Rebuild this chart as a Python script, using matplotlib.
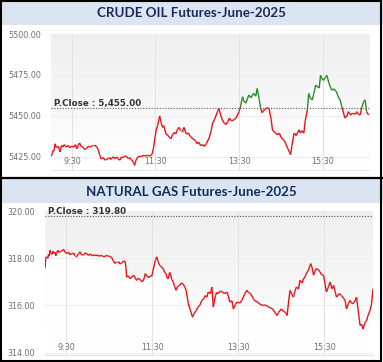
#!/usr/bin/env python3

import numpy as np
import matplotlib.pyplot as plt
from matplotlib.collections import LineCollection
from matplotlib.patches import Rectangle
from matplotlib.colors import LinearSegmentedColormap

# minutes after 9:00
crude_t = [0, 2, 3, 4, 6, 7, 8, 10, 12, 13,
           15, 17, 19, 22, 25, 27, 30, 33, 35, 37,
           39, 41, 43, 46, 48, 51, 53, 56, 60, 63,
           66, 68, 70, 72, 75, 78, 80, 84, 86, 89,
           92, 94, 96, 99, 101, 103, 106, 108, 111, 113,
           115, 118, 120, 122, 125, 128, 130, 132, 135, 139,
           142, 145, 147, 149, 151, 153, 156, 158, 160, 162,
           165, 168, 170, 172, 174, 177, 179, 182, 184, 186,
           189, 191, 194, 197, 201, 204, 208, 210, 212, 215,
           218, 220, 223, 227, 230, 232, 235, 239, 241, 244,
           246, 249, 251, 254, 256, 259, 263, 266, 270, 272,
           275, 277, 280, 282, 284, 287, 291, 294, 296, 299,
           301, 303, 306, 310, 313, 316, 318, 321, 325, 328,
           330, 334, 337, 340, 344, 346, 349, 352, 356, 358,
           360, 363, 365, 368, 370, 372, 375, 377, 380, 385,
           387, 389, 391, 394, 396, 399, 403, 406, 410, 412,
           415, 418, 422, 425, 427, 430, 433, 437, 439, 441,
           444, 446, 449, 451, 453, 456]
crude_v = [5425.4, 5427, 5429, 5428.5, 5433, 5431, 5430.7, 5431.5, 5429.5, 5428,
           5432, 5431, 5432.5, 5431, 5432, 5430.5, 5431.6, 5431, 5432.5, 5430,
           5432, 5433.5, 5431.5, 5431, 5429.5, 5430, 5431.5, 5431, 5432, 5432,
           5431, 5429, 5426, 5423.8, 5424.5, 5423, 5423.5, 5424.5, 5423.5, 5425,
           5424, 5425, 5424, 5423, 5425, 5424.5, 5425.5, 5425.4, 5424, 5424.5,
           5423.5, 5422, 5419.8, 5423, 5425, 5425.5, 5425, 5426, 5425.5, 5426,
           5425.5, 5426.5, 5430, 5436, 5441.5, 5444, 5450, 5446, 5443, 5444,
           5439, 5438, 5437, 5436, 5438, 5440, 5439, 5442, 5443, 5441,
           5441, 5443, 5439, 5439.5, 5437, 5436, 5434.5, 5433, 5434, 5431.8,
           5432.5, 5431.4, 5433, 5436.5, 5441, 5445.6, 5448, 5452.6, 5454.6, 5450,
           5447.5, 5445.5, 5444.7, 5446.5, 5448.7, 5447, 5447.7, 5449, 5452.6, 5455.5,
           5461.7, 5459, 5457.8, 5460.5, 5462.8, 5461, 5463.8, 5462, 5466.7, 5460,
           5454.6, 5452, 5453.6, 5455, 5454.6, 5448, 5441.5, 5440, 5438.5, 5439.5,
           5437, 5435.4, 5433, 5430, 5426.4, 5432, 5439.5, 5438, 5441.5, 5439.5,
           5441, 5439.5, 5447, 5453.6, 5463.7, 5461, 5459.8, 5463, 5468.8, 5467,
           5474.8, 5473, 5471.7, 5473.5, 5474.8, 5470, 5465.7, 5466.5, 5464.7, 5462,
           5459.8, 5455, 5448.7, 5450, 5452.6, 5450.5, 5451.6, 5451, 5452.6, 5451,
           5450.6, 5455, 5458.8, 5459.8, 5452.6, 5450.6]
crude_close = 5455.00

gas_t = [0, 1, 2, 4, 5, 6, 7, 8, 10, 11,
         13, 14, 15, 16, 18, 19, 21, 23, 26, 28,
         31, 33, 35, 37, 40, 42, 45, 47, 49, 51,
         54, 56, 58, 61, 63, 66, 69, 71, 73, 76,
         78, 80, 83, 85, 87, 90, 93, 95, 98, 100,
         103, 105, 107, 110, 112, 113, 114, 116, 119, 121,
         124, 126, 128, 130, 133, 135, 137, 139, 140, 142,
         145, 147, 149, 152, 154, 156, 158, 160, 162, 165,
         167, 169, 170, 172, 174, 175, 177, 179, 181, 183,
         185, 188, 190, 193, 195, 197, 199, 200, 203, 206,
         208, 211, 214, 216, 219, 222, 224, 226, 228, 231,
         233, 235, 238, 240, 242, 245, 247, 251, 254, 256,
         258, 261, 263, 266, 268, 272, 275, 277, 279, 282,
         284, 287, 289, 291, 293, 297, 300, 304, 307, 311,
         314, 318, 321, 324, 326, 330, 333, 336, 338, 342,
         345, 347, 349, 351, 354, 356, 359, 361, 363, 365,
         368, 371, 373, 375, 377, 379, 382, 384, 386, 389,
         391, 393, 396, 398, 401, 403, 405, 407, 411, 414,
         417, 419, 421, 424, 426, 428, 430, 433, 435, 437,
         440, 442, 444, 447, 449, 451, 454, 456, 458]
gas_v = [317.56, 318.0, 318.06, 318.0, 318.17, 318.1, 318.34, 318.2, 318.17, 318.3,
         318.2, 318.25, 318.1, 318.2, 318.34, 318.25, 318.27, 318.3, 318.37, 318.25,
         318.2, 318.25, 318.14, 318.2, 318.2, 318.1, 318.1, 318.2, 318.27, 318.15,
         318.14, 318.22, 318.2, 318.12, 318.18, 318.1, 318.15, 318.1, 318.14, 318.08,
         318.12, 318.1, 318.05, 318.12, 318.1, 318.08, 318.03, 317.9, 317.78, 317.85,
         317.85, 317.75, 317.8, 317.88, 317.85, 317.6, 317.2, 317.25, 317.13, 317.2,
         317.28, 317.15, 317.06, 317.15, 317.1, 317.0, 317.04, 317.2, 317.35, 317.25,
         317.18, 317.25, 317.23, 317.63, 317.9, 318.06, 317.85, 317.7, 317.65, 317.56,
         317.4, 317.35, 317.2, 317.13, 317.4, 317.35, 317.1, 316.99, 316.8, 316.64,
         316.8, 316.85, 316.95, 316.9, 316.8, 316.64, 316.3, 316.07, 315.8, 315.5,
         315.65, 315.78, 315.95, 316.0, 316.21, 316.3, 316.42, 316.35, 316.57, 316.5,
         316.78, 315.93, 316.42, 316.55, 316.5, 316.62, 316.57, 316.5, 316.57, 316.4,
         316.14, 316.2, 315.85, 316.05, 316.14, 316.1, 316.21, 316.35, 316.5, 316.64,
         316.55, 316.5, 316.4, 316.28, 316.2, 316.14, 316.05, 316.0, 316.02, 315.96,
         315.9, 315.85, 315.7, 315.57, 315.7, 315.85, 315.75, 315.7, 315.57, 316.64,
         316.45, 316.35, 316.6, 316.78, 316.7, 317.06, 316.95, 317.13, 317.2, 317.35,
         317.5, 317.77, 317.6, 317.28, 317.45, 317.56, 317.5, 317.42, 317.3, 317.28,
         316.9, 316.57, 316.8, 316.99, 316.7, 316.85, 316.6, 316.35, 316.5, 316.42,
         316.3, 316.21, 315.85, 316.1, 316.21, 316.1, 316.07, 316.2, 316.35, 315.85,
         315.15, 315.2, 315.0, 315.28, 315.35, 315.57, 315.8, 316.07, 316.71]
gas_close = 319.80

tick_t = [30, 150, 270, 390]
tick_labels = ["9:30", "11:30", "13:30", "15:30"]
crude_yticks = [5425, 5450, 5475, 5500]
gas_yticks = [314, 316, 318, 320]

W, H = 383, 362
fig = plt.figure(figsize=(W / 100, H / 100), dpi=100)
fig.patch.set_facecolor("white")

band = "#dbe5f1"
navy = "#172a5c"
red = "#e8121a"
green = "#2a8a2a"


def px(l, t, r, b):
    return [l / W, 1 - b / H, (r - l) / W, (b - t) / H]


def panel(rect, t, v, close, yticks, ylim, close_txt, two_colors):
    ax = fig.add_axes(rect)
    ax.set_xlim(0, 458)
    ax.set_ylim(*ylim)
    # gray to white background
    grad = np.linspace(0, 1, 100).reshape(-1, 1)
    ax.imshow(grad, extent=[0, 458, ylim[0], ylim[1]], aspect="auto", origin="lower",
              cmap=LinearSegmentedColormap.from_list("bg", ["#ffffff", "#efefef"]),
              zorder=0)
    ax.fill_between(t, v, ylim[0], color="white", alpha=0.85, lw=0, zorder=1)
    for x in tick_t:
        ax.axvline(x, color="#e2e2e2", lw=0.7, zorder=1)
    for y in yticks:
        ax.axhline(y, color="#ececec", lw=0.6, zorder=1)
    pts = np.column_stack([t, v])
    segs = np.stack([pts[:-1], pts[1:]], axis=1)
    if two_colors:
        mid = (np.array(v[:-1]) + np.array(v[1:])) / 2
        cols = [green if m > close else red for m in mid]
    else:
        cols = red
    ax.add_collection(LineCollection(segs, colors=cols, lw=1.0, zorder=3))
    ax.axhline(close, color="#555555", lw=0.8, ls=(0, (1, 1.5)), zorder=2)
    ax.text(4, close, close_txt, fontsize=6.3, fontweight="bold", color="#333333",
            va="bottom", ha="left", zorder=4)
    ax.set_xticks(tick_t)
    ax.set_xticklabels(tick_labels)
    ax.set_yticks(yticks)
    ax.set_yticklabels(["%.2f" % y for y in yticks])
    ax.tick_params(axis="x", length=0, pad=-9, labelsize=5.8, labelcolor="#707070")
    ax.tick_params(axis="y", length=0, pad=7, labelsize=5.8, labelcolor="#707070")
    for s in ax.spines.values():
        s.set_visible(False)
    ax.spines["bottom"].set_visible(True)
    ax.spines["bottom"].set_color("#e0e0e0")
    ax.spines["bottom"].set_linewidth(0.6)
    return ax


panel(px(51, 34, 370, 170), crude_t, crude_v, crude_close, crude_yticks, (5417, 5500),
      "P.Close : 5,455.00", True)
panel(px(45, 211, 373, 355), gas_t, gas_v, gas_close, gas_yticks, (313.9, 320.0),
      "P.Close : 319.80", False)

# title bands and frame
fig.patches.append(Rectangle((0, 1 - 25 / H), 1, 25 / H, transform=fig.transFigure,
                             facecolor=band, edgecolor="none", zorder=0))
fig.patches.append(Rectangle((0, 1 - 203 / H), 1, 24 / H, transform=fig.transFigure,
                             facecolor=band, edgecolor="none", zorder=0))
fig.text(0.5, 1 - 13 / H, "CRUDE OIL Futures-June-2025", ha="center", va="center",
         fontsize=9.6, fontweight="bold", color=navy, family="Lato")
fig.text(0.5, 1 - 192 / H, "NATURAL GAS Futures-June-2025", ha="center", va="center",
         fontsize=9.6, fontweight="bold", color=navy, family="Lato")
fig.lines.append(plt.Line2D([0, 1], [1 - 178 / H, 1 - 178 / H], transform=fig.transFigure,
                            color="black", lw=1.6))
fig.patches.append(Rectangle((0.002, 0.003), 0.994, 0.994, transform=fig.transFigure,
                             facecolor="none", edgecolor="black", lw=1.5))

fig.savefig("out.png", dpi=100)
plt.close()
